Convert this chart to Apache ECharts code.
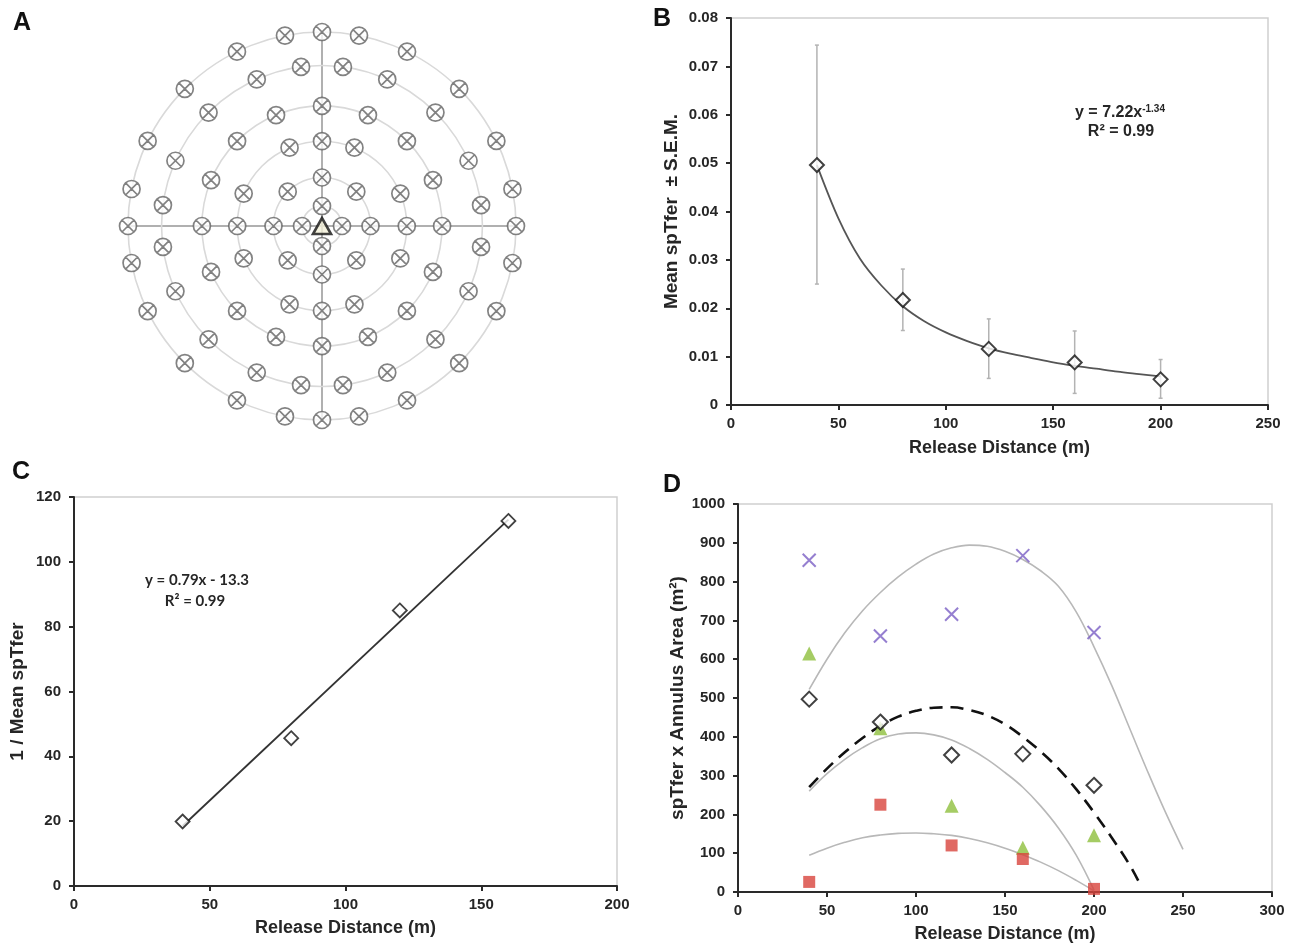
<!DOCTYPE html>
<html><head><meta charset="utf-8">
<script src="https://cdn.jsdelivr.net/npm/echarts@6/dist/echarts.min.js"></script>
<style>html,body{margin:0;padding:0;background:#fff}#c{width:1291px;height:945px}</style>
</head><body><div id="c"></div>
<script>
// ---------- Panel A : release grid ----------
const ringRadii = [10.3, 25, 43.7, 61.9, 82.7, 100];
const ringAngles = [
  [0, 90, 180, 270],
  [0, 45, 90, 135, 180, 225, 270, 315],
  [0, 22.5, 67.5, 90, 112.5, 157.5, 180, 202.5, 247.5, 270, 292.5, 337.5],
  [0, 22.5, 45, 67.5, 90, 112.5, 135, 157.5, 180, 202.5, 225, 247.5, 270, 292.5, 315, 337.5],
  [7.5, 24, 45, 66, 82.5, 97.5, 114, 135, 156, 172.5, 187.5, 204, 225, 246, 262.5, 277.5, 294, 315, 336, 352.5],
  [0, 11, 26, 45, 64, 79, 90, 101, 116, 135, 154, 169, 180, 191, 206, 225, 244, 259, 270, 281, 296, 315, 334, 349]
];
const sourcePoint = [0, 0];

// ---------- Panel B ----------
const distB = [40, 80, 120, 160, 200];
const meanB = [0.0496, 0.0217, 0.0116, 0.0088, 0.0053];
const semLowB = [0.0250, 0.0154, 0.0055, 0.0024, 0.0014];
const semHighB = [0.0744, 0.0281, 0.0178, 0.0153, 0.0094];
const fitXB = [40, 50, 60, 70, 80, 90, 100, 110, 120, 130, 140, 150, 160, 170, 180, 190, 200];
const fitYB = [0.0496, 0.0386, 0.0303, 0.0247, 0.0204, 0.0173, 0.0150, 0.0132, 0.0117, 0.0106, 0.0097, 0.0088, 0.0081, 0.0075, 0.0069, 0.0064, 0.0059];

// ---------- Panel C ----------
const distC = [40, 80, 120, 160];
const invC = [19.9, 45.6, 85, 112.6];
const fitXC = [40, 160];
const fitYC = [18.5, 113];

// ---------- Panel D ----------
const distD = [40, 80, 120, 160, 200];
const purpleD = [855, 660, 716, 867, 669];
const greenD = [615, 422, 222, 114, 146];
const blackD = [497, 438, 353, 356, 275];
const redD = [26, 225, 120, 85, 8];
const fitPurpleX = [40, 50, 60, 70, 80, 90, 100, 110, 120, 130, 140, 150, 160, 170, 180, 190, 200, 210, 220, 230, 240, 250];
const fitPurpleY = [522, 600, 668, 725, 772, 812, 845, 871, 887, 894, 891, 878, 857, 828, 788, 722, 632, 532, 422, 312, 207, 110];
const fitBlackX = [40, 50, 60, 70, 80, 90, 100, 110, 120, 130, 140, 150, 160, 170, 180, 190, 200, 210, 220, 225];
const fitBlackY = [270, 318, 360, 397, 428, 452, 467, 475, 476, 469, 455, 432, 400, 362, 318, 265, 205, 140, 70, 28];
const fitGreenX = [40, 50, 60, 70, 80, 90, 100, 110, 120, 130, 140, 150, 160, 170, 180, 190, 200];
const fitGreenY = [260, 305, 342, 372, 395, 407, 410, 405, 392, 370, 342, 308, 270, 222, 165, 95, 5];
const fitRedX = [40, 50, 60, 70, 80, 90, 100, 110, 120, 130, 140, 150, 160, 170, 180, 190, 200];
const fitRedY = [95, 113, 128, 140, 147, 151, 152, 150, 146, 138, 127, 113, 96, 77, 55, 30, 3];

const FONT = 'Liberation Sans, Arial, sans-serif';
const zip = (a, b) => a.map((v, i) => [v, b[i]]);

const gridBoxes = [
  {left: 731, top: 18, width: 537, height: 387},
  {left: 74, top: 497, width: 543, height: 389},
  {left: 738, top: 504, width: 534, height: 388}
];

function axis(gi, min, max, interval, name, gap, isY) {
  return {
    type: 'value', gridIndex: gi, min, max, interval,
    name, nameLocation: 'middle', nameGap: gap,
    nameTextStyle: {fontFamily: FONT, fontWeight: 'bold', fontSize: isY ? 19 : 18, color: '#262626'},
    axisLine: {show: true, onZero: false, lineStyle: {color: '#2a2a2a', width: 2}},
    axisTick: {show: true, length: 5, lineStyle: {color: '#2a2a2a', width: 2}},
    axisLabel: {fontFamily: FONT, fontWeight: 'bold', fontSize: 15, color: '#262626', margin: isY ? 13 : 11,
                formatter: v => String(v)},
    splitLine: {show: false}
  };
}

const ringPoints = [];
ringAngles.forEach((angs, i) => angs.forEach(a => ringPoints.push([ringRadii[i], a])));

const crossSymbol = 'path://M10 0A10 10 0 1 1 10 20A10 10 0 1 1 10 0ZM2.93 2.93L17.07 17.07M17.07 2.93L2.93 17.07';
const xSymbol = 'path://M0 0L10 10M10 0L0 10';

const option = {
  animation: false,
  textStyle: {fontFamily: FONT},
  polar: {center: [322, 226], radius: 194},
  angleAxis: {
    type: 'value', min: 0, max: 360, interval: 90, startAngle: 0, clockwise: false,
    axisLine: {show: false}, axisTick: {show: false}, axisLabel: {show: false},
    splitLine: {show: true, lineStyle: {color: '#b0b0b0', width: 2}}
  },
  radiusAxis: {
    type: 'value', min: 0, max: 100,
    axisLine: {show: false}, axisTick: {show: false}, axisLabel: {show: false}, splitLine: {show: false}
  },
  grid: gridBoxes.map(g => Object.assign({show: true, borderColor: '#cfcfcf', borderWidth: 1.5, containLabel: false}, g)),
  xAxis: [
    axis(0, 0, 250, 50, 'Release Distance (m)', 34, false),
    axis(1, 0, 200, 50, 'Release Distance (m)', 33, false),
    axis(2, 0, 300, 50, 'Release Distance (m)', 33, false)
  ],
  yAxis: [
    axis(0, 0, 0.08, 0.01, 'Mean spTfer  \u00b1 S.E.M.', 50, true),
    axis(1, 0, 120, 20, '1 / Mean spTfer', 47, true),
    axis(2, 0, 1000, 100, 'spTfer x Annulus Area (m\u00b2)', 51, true)
  ],
  graphic: [
    {type: 'text', x: 22, y: 23, style: {text: 'A', font: 'bold 25px ' + FONT, fill: '#111', align: 'center', verticalAlign: 'middle'}},
    {type: 'text', x: 662, y: 19, style: {text: 'B', font: 'bold 25px ' + FONT, fill: '#111', align: 'center', verticalAlign: 'middle'}},
    {type: 'text', x: 21, y: 472, style: {text: 'C', font: 'bold 25px ' + FONT, fill: '#111', align: 'center', verticalAlign: 'middle'}},
    {type: 'text', x: 672, y: 485, style: {text: 'D', font: 'bold 25px ' + FONT, fill: '#111', align: 'center', verticalAlign: 'middle'}},
    {type: 'text', x: 1120, y: 113, style: {
      text: '{a|y = 7.22x}{s|-1.34}', align: 'center', verticalAlign: 'middle',
      rich: {a: {font: 'bold 16px ' + FONT, fill: '#262626', lineHeight: 18},
             s: {font: 'bold 10px ' + FONT, fill: '#262626', lineHeight: 18, verticalAlign: 'top'}}}},
    {type: 'text', x: 1121, y: 132, style: {text: 'R\u00b2 = 0.99', font: 'bold 16px ' + FONT, fill: '#262626', align: 'center', verticalAlign: 'middle'}},
    {type: 'text', x: 197, y: 580, style: {text: 'y = 0.79x - 13.3', font: 'bold 15px Lato, sans-serif', fill: '#262626', align: 'center', verticalAlign: 'middle'}},
    {type: 'text', x: 195, y: 601, style: {text: 'R\u00b2 = 0.99', font: 'bold 15px Lato, sans-serif', fill: '#262626', align: 'center', verticalAlign: 'middle'}}
  ],
  series: [
    // Panel A
    {
      type: 'custom', coordinateSystem: 'polar', z: 1, silent: true,
      data: ringRadii.map(r => [r, 0]),
      renderItem: function (params, api) {
        const c = api.coord([0, 0]);
        const p = api.coord([api.value(0), 0]);
        const rad = Math.hypot(p[0] - c[0], p[1] - c[1]);
        return {type: 'circle', shape: {cx: c[0], cy: c[1], r: rad}, style: {fill: 'none', stroke: '#d9d9d9', lineWidth: 1.6}};
      }
    },
    {
      type: 'scatter', coordinateSystem: 'polar', z: 3, data: ringPoints,
      symbol: crossSymbol, symbolSize: 17,
      itemStyle: {color: '#ffffff', borderColor: '#636363', borderWidth: 1.7}
    },
    {
      type: 'scatter', coordinateSystem: 'polar', z: 4, data: [sourcePoint],
      symbol: 'triangle', symbolSize: [18, 16],
      itemStyle: {color: '#f3f0d8', borderColor: '#111', borderWidth: 2.6}
    },
    // Panel B
    {
      type: 'custom', xAxisIndex: 0, yAxisIndex: 0, z: 2,
      data: distB.map((x, i) => [x, semLowB[i], semHighB[i]]),
      encode: {x: 0, y: [1, 2]},
      renderItem: function (params, api) {
        const x = api.value(0);
        const lo = api.coord([x, api.value(1)]);
        const hi = api.coord([x, api.value(2)]);
        const st = {stroke: '#b3b3b3', lineWidth: 1.5};
        return {type: 'group', children: [
          {type: 'line', shape: {x1: lo[0], y1: lo[1], x2: hi[0], y2: hi[1]}, style: st},
          {type: 'line', shape: {x1: lo[0] - 2, y1: lo[1], x2: lo[0] + 2, y2: lo[1]}, style: st},
          {type: 'line', shape: {x1: hi[0] - 2, y1: hi[1], x2: hi[0] + 2, y2: hi[1]}, style: st}
        ]};
      }
    },
    {
      type: 'line', xAxisIndex: 0, yAxisIndex: 0, z: 3, data: zip(fitXB, fitYB),
      smooth: 0.3, showSymbol: false, lineStyle: {color: '#555', width: 1.8}
    },
    {
      type: 'scatter', xAxisIndex: 0, yAxisIndex: 0, z: 4, data: zip(distB, meanB),
      symbol: 'diamond', symbolSize: 14,
      itemStyle: {color: '#fff', borderColor: '#111', borderWidth: 2}
    },
    // Panel C
    {
      type: 'line', xAxisIndex: 1, yAxisIndex: 1, z: 3, data: zip(fitXC, fitYC),
      showSymbol: false, lineStyle: {color: '#333', width: 1.8}
    },
    {
      type: 'scatter', xAxisIndex: 1, yAxisIndex: 1, z: 4, data: zip(distC, invC),
      symbol: 'diamond', symbolSize: 14,
      itemStyle: {color: '#fff', borderColor: '#111', borderWidth: 1.8}
    },
    // Panel D curves
    {
      type: 'line', xAxisIndex: 2, yAxisIndex: 2, z: 2, data: zip(fitPurpleX, fitPurpleY),
      smooth: 0.4, showSymbol: false, lineStyle: {color: '#b8b8b8', width: 1.6}
    },
    {
      type: 'line', xAxisIndex: 2, yAxisIndex: 2, z: 2, data: zip(fitGreenX, fitGreenY),
      smooth: 0.4, showSymbol: false, lineStyle: {color: '#b8b8b8', width: 1.6}
    },
    {
      type: 'line', xAxisIndex: 2, yAxisIndex: 2, z: 2, data: zip(fitRedX, fitRedY),
      smooth: 0.4, showSymbol: false, lineStyle: {color: '#b8b8b8', width: 1.6}
    },
    {
      type: 'line', xAxisIndex: 2, yAxisIndex: 2, z: 3, data: zip(fitBlackX, fitBlackY),
      smooth: 0.4, showSymbol: false, lineStyle: {color: '#111', width: 2.6, type: [13, 8]}
    },
    // Panel D points
    {
      type: 'scatter', xAxisIndex: 2, yAxisIndex: 2, z: 4, data: zip(distD, purpleD),
      symbol: xSymbol, symbolSize: 13,
      itemStyle: {color: 'none', borderColor: '#7b5fc4', borderWidth: 2}
    },
    {
      type: 'scatter', xAxisIndex: 2, yAxisIndex: 2, z: 4, data: zip(distD, greenD),
      symbol: 'triangle', symbolSize: 14, itemStyle: {color: '#8fbf3d'}
    },
    {
      type: 'scatter', xAxisIndex: 2, yAxisIndex: 2, z: 4, data: zip(distD, redD),
      symbol: 'rect', symbolSize: 12, itemStyle: {color: '#d8433c'}
    },
    {
      type: 'scatter', xAxisIndex: 2, yAxisIndex: 2, z: 5, data: zip(distD, blackD),
      symbol: 'diamond', symbolSize: 15,
      itemStyle: {color: '#fff', borderColor: '#111', borderWidth: 2}
    }
  ]
};

const chart = echarts.init(document.getElementById('c'), null, {renderer: 'canvas'});
chart.setOption(option);
</script>
</body></html>
